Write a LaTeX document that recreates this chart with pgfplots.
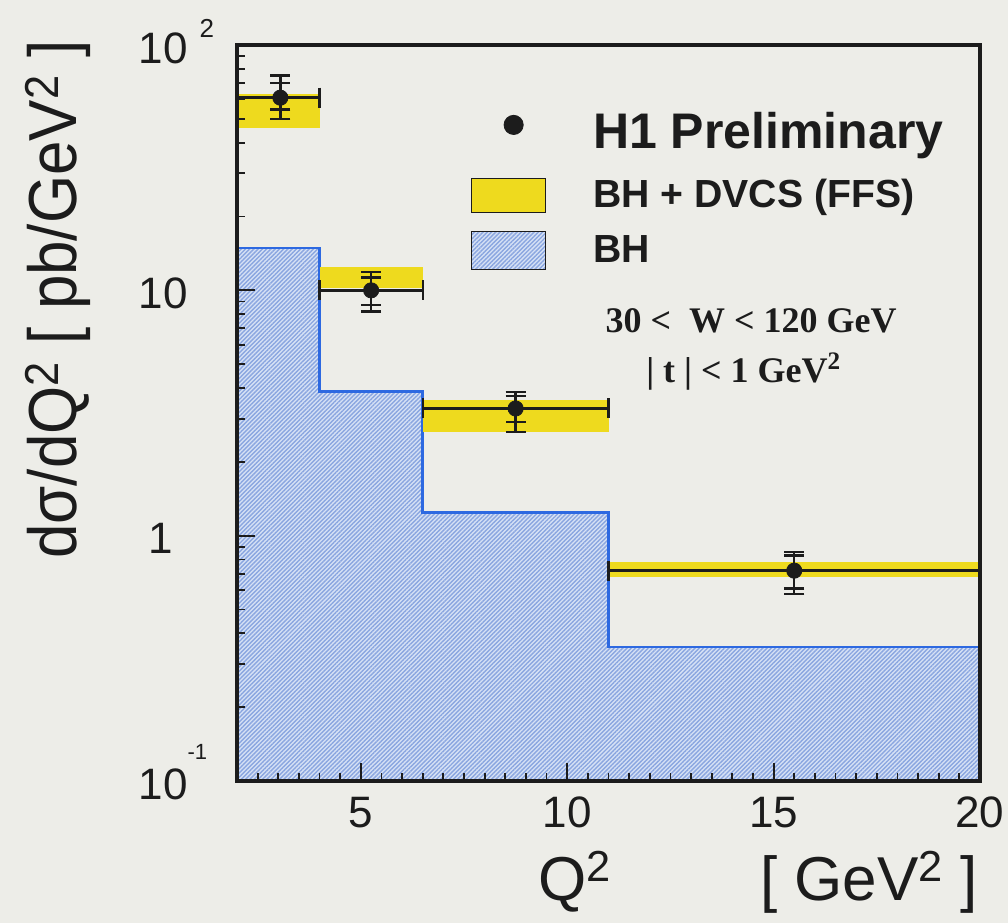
\documentclass[border=0pt]{standalone}
\usepackage{fontspec}
\setmainfont{Liberation Sans}
\newfontfamily\timesfont{Liberation Serif}
\usepackage{pgfplots}
\pgfplotsset{compat=1.18}
\usetikzlibrary{patterns.meta}

\definecolor{bg}{RGB}{237,237,232}
\definecolor{inkc}{RGB}{28,28,28}
\definecolor{bandyellow}{RGB}{238,218,30}
\definecolor{bhline}{RGB}{45,105,225}
\definecolor{bhfill}{RGB}{214,225,245}
\definecolor{bhhatch}{RGB}{138,166,224}

% H1 measured points: x, y, bin half widths, stat and total errors
\pgfplotstableread{
x     y     xm    xp    sp    sm    tp    tm
3.05  61.0  1.05  0.95  9.0   6.5   14.0  11.0
5.25  10.0  1.25  1.25  1.3   1.3   1.9   1.8
8.75  3.30  2.25  2.25  0.40  0.40  0.55  0.66
15.5  0.72  4.5   4.5   0.11  0.11  0.14  0.14
}\hone

\begin{document}
\begin{tikzpicture}
\path[use as bounding box, fill=bg] (0,0) rectangle (504pt,461.5pt);
\begin{axis}[
  at={(118.5pt,71pt)}, anchor=south west,
  scale only axis, width=371.5pt, height=368pt,
  xmin=2, xmax=20, ymode=log, ymin=0.1, ymax=100, log origin=infty,
  clip=false, axis on top,
  axis line style={line width=1.8pt, inkc},
  tick align=inside, xtick pos=bottom, ytick pos=left,
  major tick length=9pt, minor tick length=4pt,
  every tick/.style={inkc, line width=0.9pt},
  xtick={5,10,15,20}, xticklabels={5,10,15,20},
  minor xtick={2,2.5,...,20},
  ytick={0.1,1,10,100},
  yticklabels={10\rlap{\smash{\raisebox{20pt}{\fontsize{11}{13}\selectfont -1}}},
               1\kern7.5pt,
               10,
               10\rlap{\smash{\raisebox{13pt}{\fontsize{13}{15}\selectfont\kern6pt 2}}}},
  tick label style={font=\fontsize{22}{26}\selectfont, text=inkc},
  xticklabel style={yshift=-4.5pt},
  yticklabel style={xshift=-21.2pt, yshift=-1.5pt},
  xlabel={Q\textsuperscript{2}},
  xlabel style={at={(rel axis cs:0.455,0)}, anchor=base, yshift=-59.5pt,
                font=\fontsize{31}{36}\selectfont, text=inkc},
  ylabel={\scalebox{0.91}[1]{dσ/dQ\textsuperscript{2} [ pb/GeV\textsuperscript{2} ]}},
  ylabel style={at={(rel axis cs:-0.241,0.654)}, anchor=center,
                font=\fontsize{34}{40}\selectfont, text=inkc},
  legend cell align=left,
  legend style={at={(rel axis cs:0.315,0.914)}, anchor=north west,
                draw=none, fill=none, inner sep=0pt, outer sep=0pt,
                row sep=8pt, font=\bfseries, text=inkc,
                /tikz/every odd column/.append style={column sep=21.5pt}},
]

% legend entries
\addlegendimage{legend image code/.code={
    \fill[inkc] (21pt,3.5pt) circle (4.8pt);
    \draw[draw=none] (0pt,-13.75pt) -- (37pt,-13.75pt);}}
\addlegendentry{\fontsize{25}{29}\selectfont H1 Preliminary}
\addlegendimage{legend image code/.code={
    \draw[fill=bandyellow, draw=inkc, line width=0.6pt] (0pt,-8.5pt) rectangle (37pt,8.5pt);}}
\addlegendentry{\fontsize{19.6}{24}\selectfont BH + DVCS (FFS)}
\addlegendimage{legend image code/.code={
    \fill[bhfill] (0pt,-9.5pt) rectangle (37pt,9.5pt);
    \fill[pattern={Lines[angle=45,distance=1.5pt,line width=0.7pt]}, pattern color=bhhatch]
        (0pt,-9.5pt) rectangle (37pt,9.5pt);
    \draw[inkc, line width=0.6pt] (0pt,-9.5pt) rectangle (37pt,9.5pt);}}
\addlegendentry{\fontsize{19.6}{24}\selectfont BH}

% BH prediction (hatched histogram)
\addplot[const plot, draw=bhline, line width=1.3pt,
         preaction={fill=bhfill},
         pattern={Lines[angle=45,distance=1.5pt,line width=0.7pt]}, pattern color=bhhatch,
         forget plot]
  coordinates {(2,14.9) (4,3.88) (6.5,1.24) (11,0.352) (20,0.352)} \closedcycle;

% BH + DVCS (FFS) bands
\addplot[fill=bandyellow, draw=none, forget plot] coordinates {(2,46) (4,46) (4,63) (2,63)} -- cycle;
\addplot[fill=bandyellow, draw=none, forget plot] coordinates {(4,10.2) (6.5,10.2) (6.5,12.4) (4,12.4)} -- cycle;
\addplot[fill=bandyellow, draw=none, forget plot] coordinates {(6.5,2.64) (11,2.64) (11,3.57) (6.5,3.57)} -- cycle;
\addplot[fill=bandyellow, draw=none, forget plot] coordinates {(11,0.678) (20,0.678) (20,0.78) (11,0.78)} -- cycle;

% total errors
\addplot[only marks, mark=none, forget plot,
  error bars/.cd, y dir=both, y explicit,
  error bar style={line width=1.2pt, inkc},
  error mark options={rotate=90, line width=1.2pt, mark size=5pt, inkc}]
  table[x=x, y=y, y error plus=tp, y error minus=tm] {\hone};

% statistical errors, bin widths and points
\addplot[only marks, mark=*, mark size=3.8pt, mark options={fill=inkc, draw=inkc}, forget plot,
  error bars/.cd, y dir=both, y explicit, x dir=both, x explicit,
  error bar style={line width=1.2pt, inkc},
  error mark options={rotate=90, line width=1.2pt, mark size=5pt, inkc}]
  table[x=x, y=y, x error plus=xp, x error minus=xm, y error plus=sp, y error minus=sm] {\hone};

\node[anchor=base east, font=\fontsize{31}{36}\selectfont, text=inkc]
  at ([yshift=-59.5pt]rel axis cs:1.007,0) {[ GeV\textsuperscript{2} ]};
\node[anchor=base, font=\fontsize{18}{22}\selectfont\timesfont\bfseries, text=inkc]
  at (rel axis cs:0.692,0.610) {30 <\ \ W < 120 GeV};
\node[anchor=base, font=\fontsize{18}{22}\selectfont\timesfont\bfseries, text=inkc]
  at (rel axis cs:0.682,0.542) {| t | < 1 GeV\textsuperscript{2}};
\end{axis}
\end{tikzpicture}
\end{document}
